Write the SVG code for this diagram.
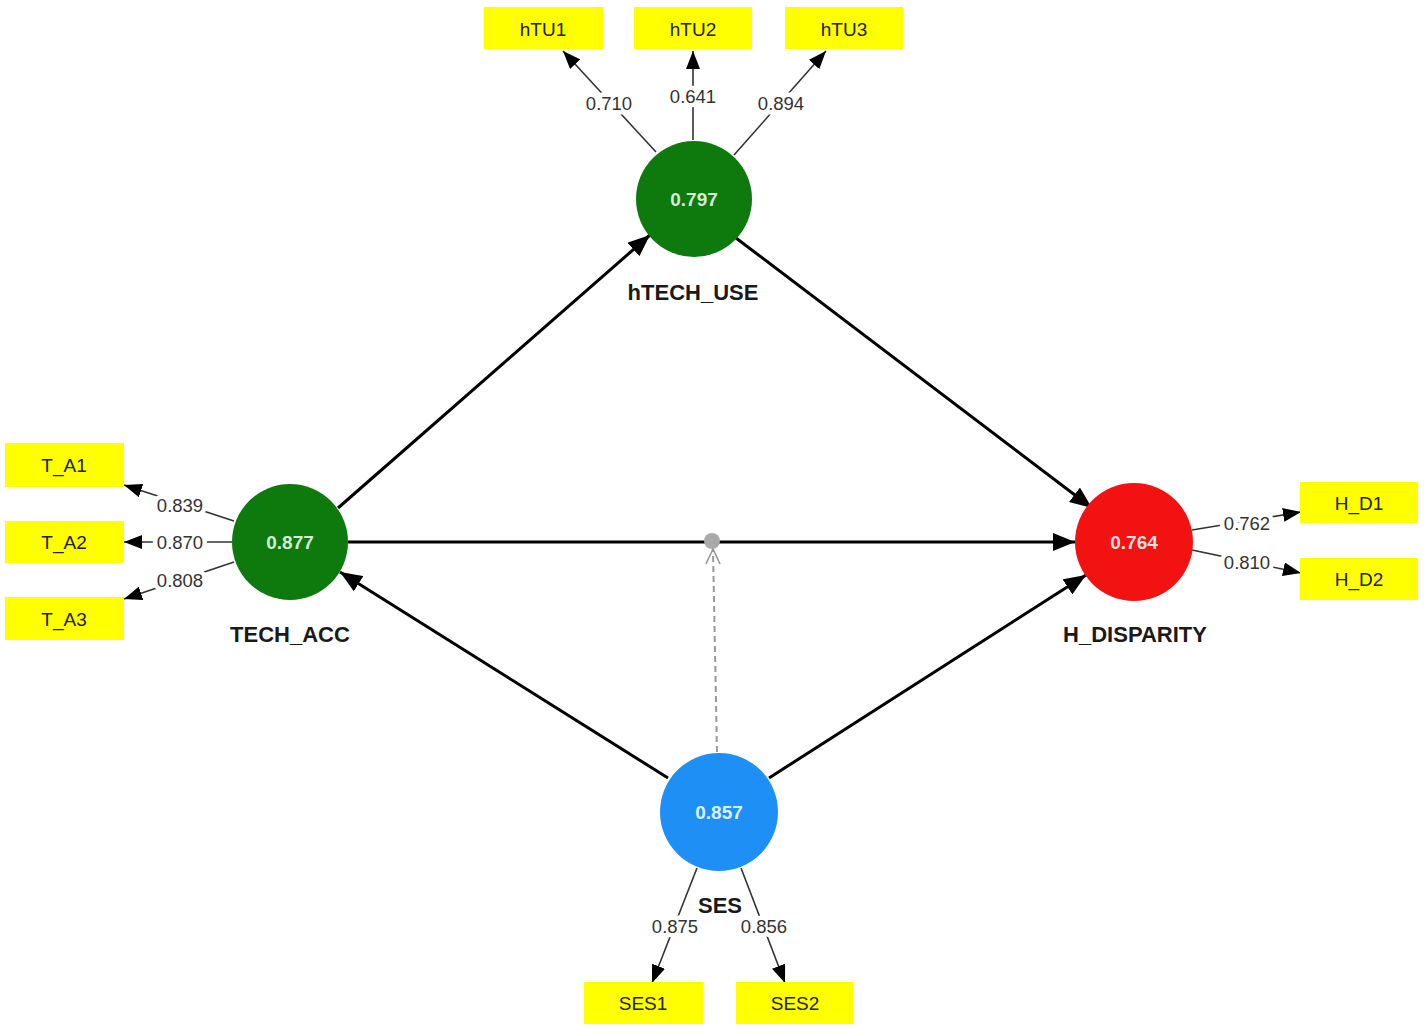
<svg xmlns="http://www.w3.org/2000/svg" width="1428" height="1032" viewBox="0 0 1428 1032">
<style>
.box{fill:#ffff00;}
.boxt{font-family:"Liberation Sans",Arial,sans-serif;font-size:19px;fill:#222;text-anchor:middle;dominant-baseline:central;}
.ld{stroke:#333;stroke-width:1.6;fill:none;marker-end:url(#ah);}
.st{stroke:#000;stroke-width:3;fill:none;marker-end:url(#ahb);}
.lt{font-family:"Liberation Sans",Arial,sans-serif;font-size:18.5px;fill:#333;text-anchor:middle;dominant-baseline:central;stroke:#fff;stroke-width:9;stroke-linejoin:round;paint-order:stroke;}
.val{font-family:"Liberation Sans",Arial,sans-serif;font-size:19px;font-weight:bold;text-anchor:middle;dominant-baseline:central;}
.nm{font-family:"Liberation Sans Narrow","Liberation Sans",Arial,sans-serif;font-size:22px;font-weight:bold;fill:#1a1a1a;text-anchor:middle;dominant-baseline:central;}
</style>
<defs>
<marker id="ah" markerUnits="userSpaceOnUse" markerWidth="18" markerHeight="14" refX="18" refY="7" orient="auto"><path d="M0,0 L18,7 L0,14 z" fill="#000"/></marker>
<marker id="ahb" markerUnits="userSpaceOnUse" markerWidth="22" markerHeight="18" refX="22" refY="9" orient="auto"><path d="M0,0 L22,9 L0,18 z" fill="#000"/></marker>
</defs>
<rect width="1428" height="1032" fill="#fff"/>
<g id="connectors">
<line class="st" x1="338" y1="508" x2="650" y2="235"/>
<line class="st" x1="736" y1="238" x2="1092" y2="508"/>
<line class="st" x1="348" y1="542" x2="1075" y2="542"/>
<line class="st" x1="668" y1="778" x2="340" y2="572"/>
<line class="st" x1="769" y1="778" x2="1086" y2="575"/>
<line x1="717" y1="752" x2="713" y2="550" stroke="#999" stroke-width="2" stroke-dasharray="6,4"/>
<path d="M706,564 L713,549 L720,564" fill="none" stroke="#999" stroke-width="1.6"/>
<circle cx="712" cy="541" r="8" fill="#aaa"/>
<line class="ld" x1="656" y1="152" x2="563" y2="51"/>
<line class="ld" x1="693" y1="140" x2="693" y2="51"/>
<line class="ld" x1="734" y1="155" x2="826" y2="51"/>
<line class="ld" x1="234" y1="521" x2="124" y2="485"/>
<line class="ld" x1="232" y1="542" x2="124" y2="542"/>
<line class="ld" x1="234" y1="562" x2="124" y2="599"/>
<line class="ld" x1="1192" y1="530" x2="1301" y2="512"/>
<line class="ld" x1="1192" y1="550" x2="1301" y2="573"/>
<line class="ld" x1="697" y1="868" x2="652" y2="983"/>
<line class="ld" x1="741" y1="868" x2="785" y2="983"/>
<text class="lt" x="609" y="103">0.710</text>
<text class="lt" x="693" y="96">0.641</text>
<text class="lt" x="781" y="103">0.894</text>
<text class="lt" x="180" y="505">0.839</text>
<text class="lt" x="180" y="542">0.870</text>
<text class="lt" x="180" y="580">0.808</text>
<text class="lt" x="1247" y="523">0.762</text>
<text class="lt" x="1247" y="562">0.810</text>
<text class="lt" x="675" y="926">0.875</text>
<text class="lt" x="764" y="926">0.856</text>
</g>
<g id="hTECH_USE">
<circle cx="694" cy="199" r="58" fill="#0e7a0e"/>
<text class="val" x="694" y="199" fill="#d4ecd4">0.797</text>
<text class="nm" x="693" y="292">hTECH_USE</text>
</g>
<g id="TECH_ACC">
<circle cx="290" cy="542" r="58" fill="#0e7a0e"/>
<text class="val" x="290" y="542" fill="#d4ecd4">0.877</text>
<text class="nm" x="290" y="634">TECH_ACC</text>
</g>
<g id="H_DISPARITY">
<circle cx="1134" cy="542" r="59" fill="#f21212"/>
<text class="val" x="1134" y="542" fill="#f4dede">0.764</text>
<text class="nm" x="1135" y="634">H_DISPARITY</text>
</g>
<g id="SES">
<circle cx="719" cy="812" r="59" fill="#1e90f5"/>
<text class="val" x="719" y="812" fill="#dcefff">0.857</text>
<text class="nm" x="720" y="905">SES</text>
</g>
<g id="hTU1"><rect class="box" x="484" y="7" width="119" height="42"/><text class="boxt" x="543" y="29">hTU1</text></g>
<g id="hTU2"><rect class="box" x="634" y="7" width="118" height="42"/><text class="boxt" x="693" y="29">hTU2</text></g>
<g id="hTU3"><rect class="box" x="785" y="7" width="118" height="42"/><text class="boxt" x="844" y="29">hTU3</text></g>
<g id="T_A1"><rect class="box" x="5" y="443" width="119" height="44"/><text class="boxt" x="64" y="465">T_A1</text></g>
<g id="T_A2"><rect class="box" x="5" y="521" width="119" height="42"/><text class="boxt" x="64" y="542">T_A2</text></g>
<g id="T_A3"><rect class="box" x="5" y="597" width="119" height="43"/><text class="boxt" x="64" y="619">T_A3</text></g>
<g id="H_D1"><rect class="box" x="1300" y="482" width="118" height="41"/><text class="boxt" x="1359" y="503">H_D1</text></g>
<g id="H_D2"><rect class="box" x="1300" y="558" width="118" height="42"/><text class="boxt" x="1359" y="579">H_D2</text></g>
<g id="SES1"><rect class="box" x="584" y="982" width="119" height="42"/><text class="boxt" x="643" y="1003">SES1</text></g>
<g id="SES2"><rect class="box" x="736" y="982" width="117" height="42"/><text class="boxt" x="795" y="1003">SES2</text></g>
</svg>
